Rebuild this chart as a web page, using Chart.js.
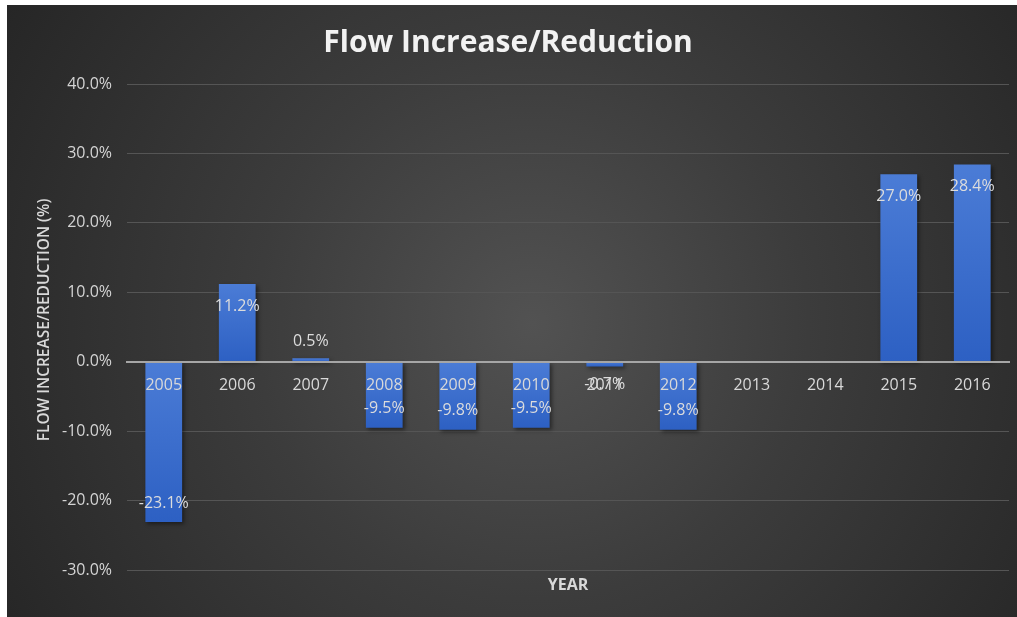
<!DOCTYPE html>
<html>
<head>
<meta charset="utf-8">
<script src="https://cdn.jsdelivr.net/npm/chart.js@4.4.1/dist/chart.umd.min.js"></script>
<style>
  html, body { margin: 0; padding: 0; background: #ffffff; width: 1017px; height: 617px; overflow: hidden; }
  #wrap { position: absolute; left: 7px; top: 5px; width: 1010px; height: 612px;
    background: radial-gradient(circle farthest-corner at 52% 52%, #525252 0%, #3c3c3c 45%, #262626 100%); }
  canvas { display: block; }
</style>
</head>
<body>
<div id="wrap"><canvas id="c" width="1010" height="612"></canvas></div>
<script>
// ---- data ----
const years = ['2005','2006','2007','2008','2009','2010','2011','2012','2013','2014','2015','2016'];
const changePct = [-23.1, 11.2, 0.5, -9.5, -9.8, -9.5, -0.7, -9.8, null, null, 27.0, 28.4];
const chartTitle = 'Flow Increase/Reduction';
const xTitle = 'YEAR';
const yTitle = 'FLOW INCREASE/REDUCTION (%)';
const yMin = -30, yMax = 40, yStep = 10;

Chart.defaults.font.family = "'Open Sans', 'DejaVu Sans', sans-serif";

const barShadow = {
  id: 'barShadow',
  beforeDatasetDraw(chart) {
    const ctx = chart.ctx;
    ctx.save();
    ctx.shadowColor = 'rgba(0,0,0,0.45)';
    ctx.shadowBlur = 4;
    ctx.shadowOffsetX = 2;
    ctx.shadowOffsetY = 2;
  },
  afterDatasetDraw(chart) { chart.ctx.restore(); }
};

const valueLabels = {
  id: 'valueLabels',
  afterDatasetsDraw(chart) {
    const ctx = chart.ctx;
    const meta = chart.getDatasetMeta(0);
    ctx.save();
    ctx.font = "16px 'Open Sans', sans-serif";
    ctx.fillStyle = '#dcdcdc';
    ctx.textAlign = 'center';
    ctx.textBaseline = 'middle';
    meta.data.forEach((el, i) => {
      const v = changePct[i];
      if (v === null || v === undefined) return;
      const h = Math.abs(el.base - el.y);
      let y;
      if (v >= 0) y = h > 35 ? el.y + 22 : el.y - 17;
      else y = h > 35 ? el.y - 19 : el.y + 18;
      ctx.fillText(v.toFixed(1) + '%', el.x, y);
    });
    ctx.restore();
  }
};

// vertical axis title
const yAxisTitle = {
  id: 'yAxisTitle',
  afterDraw(chart) {
    const ctx = chart.ctx;
    const a = chart.chartArea;
    ctx.save();
    ctx.translate(38, (a.top + a.bottom) / 2 - 7);
    ctx.rotate(-Math.PI / 2);
    ctx.font = "600 15.5px 'Open Sans', sans-serif";
    ctx.fillStyle = '#d9d9d9';
    ctx.textAlign = 'center';
    ctx.textBaseline = 'middle';
    ctx.fillText(yTitle, 0, 0);
    ctx.restore();
  }
};

function barFill(c) {
  const chart = c.chart;
  const v = c.raw;
  if (!chart.chartArea || v === null || v === undefined) return '#3b6dcc';
  const ys = chart.scales.y;
  const p0 = ys.getPixelForValue(0), p1 = ys.getPixelForValue(v);
  const top = Math.min(p0, p1), bot = Math.max(p0, p1);
  const g = chart.ctx.createLinearGradient(0, top, 0, bot + 0.01);
  g.addColorStop(0, '#4b7cd6');
  g.addColorStop(1, '#2d60c3');
  return g;
}

new Chart(document.getElementById('c'), {
  type: 'bar',
  data: {
    labels: years,
    datasets: [{
      data: changePct,
      backgroundColor: barFill,
      borderWidth: 0,
      barPercentage: 0.5,
      categoryPercentage: 1.0
    }]
  },
  options: {
    responsive: false,
    animation: false,
    devicePixelRatio: 1,
    layout: { padding: { left: 0, right: 8, top: 0, bottom: 0 } },
    plugins: {
      legend: { display: false },
      tooltip: { enabled: false },
      title: {
        display: true,
        text: chartTitle,
        color: '#f2f2f2',
        font: { size: 30, weight: 'bold' },
        padding: { top: 20, bottom: 23 }
      }
    },
    scales: {
      x: {
        type: 'category',
        position: { y: 0 },
        grid: { display: false, drawTicks: false },
        border: { display: true, color: '#a6a6a6', width: 2, z: 1 },
        ticks: { color: '#d9d9d9', font: { size: 16 }, padding: 14, z: 1, maxRotation: 0, autoSkip: false }
      },
      x2: {
        type: 'category',
        position: 'bottom',
        grid: { display: false, drawTicks: false },
        border: { display: false },
        ticks: { display: false },
        title: { display: true, text: xTitle, color: '#d9d9d9', font: { size: 16, weight: 'bold' }, padding: { top: 0, bottom: 22 } },
        afterFit(s) { s.height = 47; }
      },
      y: {
        min: yMin, max: yMax,
        ticks: { stepSize: yStep, color: '#d4d4d4', font: { size: 16 }, padding: 15,
          callback: v => v.toFixed(1) + '%' },
        grid: { color: '#555555', lineWidth: 1, drawTicks: false },
        border: { display: false },
        afterFit(s) { s.width = 120; }
      }
    }
  },
  plugins: [barShadow, valueLabels, yAxisTitle]
});
</script>
</body>
</html>
